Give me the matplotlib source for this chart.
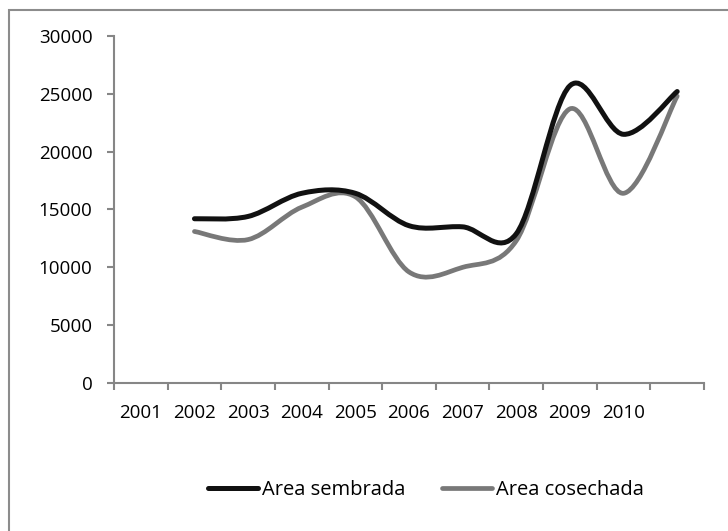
import matplotlib
matplotlib.use("Agg")
import matplotlib.pyplot as plt
from matplotlib.path import Path
from matplotlib.patches import PathPatch, Rectangle
from matplotlib.lines import Line2D
import numpy as np

plt.rcParams['font.family'] = ['Open Sans', 'DejaVu Sans']

# Data
year_labels = ['2001', '2002', '2003', '2004', '2005', '2006', '2007', '2008', '2009', '2010', '']
data_positions = [1, 2, 3, 4, 5, 6, 7, 8, 9, 10]
area_sembrada = [14200, 14400, 16400, 16400, 13600, 13500, 12900, 25700, 21500, 25200]
area_cosechada = [13100, 12400, 15200, 16100, 9600, 10000, 12300, 23700, 16400, 24800]

fig = plt.figure(figsize=(7.28, 5.31), dpi=100)
ax = fig.add_axes([114/728, 1-383/531, (704-114)/728, (383-36)/531])

def smooth_path(xs, ys):
    xs = np.asarray(xs, float); ys = np.asarray(ys, float)
    n = len(xs)
    verts = [(xs[0], ys[0])]
    codes = [Path.MOVETO]
    for i in range(n-1):
        i0 = max(i-1, 0); i3 = min(i+2, n-1)
        c1 = (xs[i] + (xs[i+1]-xs[i0])/6, ys[i] + (ys[i+1]-ys[i0])/6)
        c2 = (xs[i+1] - (xs[i3]-xs[i])/6, ys[i+1] - (ys[i3]-ys[i])/6)
        verts += [c1, c2, (xs[i+1], ys[i+1])]
        codes += [Path.CURVE4]*3
    return Path(verts, codes)

black = '#111111'
gray = '#787878'
ax.add_patch(PathPatch(smooth_path(data_positions, area_cosechada), fill=False,
                       edgecolor=gray, lw=3.4, capstyle='round', joinstyle='round'))
ax.add_patch(PathPatch(smooth_path(data_positions, area_sembrada), fill=False,
                       edgecolor=black, lw=3.6, capstyle='round', joinstyle='round'))

ax.set_xlim(-0.5, 10.5)
ax.set_ylim(0, 30000)
ax.set_yticks(range(0, 30001, 5000))
ax.set_xticks(np.arange(-0.5, 11, 1))
ax.set_xticklabels([])
ax.set_xticks(range(11), minor=True)
ax.set_xticklabels(year_labels, minor=True)
ax.tick_params(axis='x', which='minor', length=0, pad=15, labelsize=13.5)
ax.tick_params(axis='x', which='major', length=5, width=1.5, color='#868686')
ax.tick_params(axis='y', length=5, width=1.5, color='#868686', labelsize=13.5, pad=10.5)

for s in ['top', 'right']:
    ax.spines[s].set_visible(False)
for s in ['left', 'bottom']:
    ax.spines[s].set_color('#868686')
    ax.spines[s].set_linewidth(1.5)

handles = [Line2D([], [], color=black, lw=3.6, solid_capstyle='round'),
           Line2D([], [], color=gray, lw=3.4, solid_capstyle='round')]
fig.legend(handles, ['Area sembrada', 'Area cosechada'], loc='center',
           bbox_to_anchor=(426/728, 1-490/531), ncol=2, frameon=False,
           fontsize=14.5, handlelength=2.45, handletextpad=0.2, columnspacing=1.85)

fig.patches.append(Rectangle((9/728, -0.1), 1.2, 1-10/531+0.1, transform=fig.transFigure,
                             fill=False, edgecolor='#8c8c8c', lw=1.5))

fig.savefig('out.png', dpi=100)
